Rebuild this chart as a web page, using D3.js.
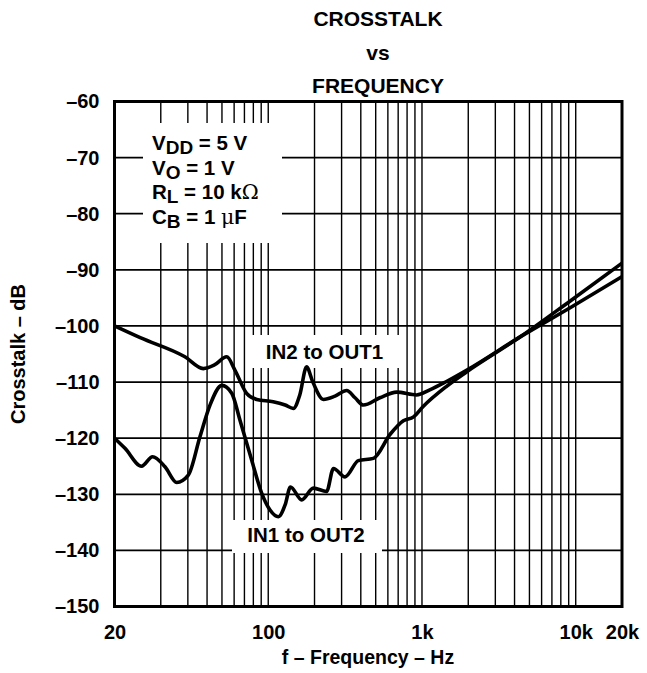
<!DOCTYPE html>
<html>
<head>
<meta charset="utf-8">
<script src="https://cdn.jsdelivr.net/npm/d3@7"></script>
<style>
  html, body { margin: 0; padding: 0; background: #fff; }
  svg { display: block; }
  text { font-family: "Liberation Sans", Arial, Helvetica, sans-serif; font-weight: bold; fill: #000; }
</style>
</head>
<body>
<svg id="chart" width="647" height="673"></svg>
<script>
// Crosstalk between channels vs frequency (Hz, log axis; dB)
const in2ToOut1Freq = [10, 14.7, 28.7, 37.8, 44.4, 53.7, 60.8, 72.3, 84.2, 107.6, 128.8, 145.7, 160.4, 177.6, 195, 228.3, 272, 323.8, 367, 415, 532, 684, 923, 1124, 1443, 1948, 4379, 9260, 20000];
const in2ToOut1Db   = [-100.0, -102.1, -105.5, -107.6, -107.0, -105.5, -107.9, -112.0, -113.1, -113.5, -114.1, -114.7, -112.3, -107.3, -110.0, -113.1, -112.5, -111.5, -112.8, -114.1, -112.8, -111.8, -112.3, -111.4, -109.9, -107.9, -101.9, -96.7, -91.2];

const in1ToOut2Freq = [10, 11.7, 15.0, 17.7, 21.3, 25.4, 30.2, 36.0, 41.8, 49.9, 57.9, 65.5, 78.0, 90.6, 102.7, 116.4, 128.7, 139.5, 165, 196.5, 239.7, 265.6, 316, 385.6, 482.7, 621, 757, 882, 1014, 1440, 1948, 4379, 9260, 20000];
const in1ToOut2Db   = [-120.0, -121.8, -125.0, -123.3, -125.1, -127.9, -126.6, -119.7, -114.1, -110.6, -112.0, -116.8, -123.9, -129.8, -132.8, -134.0, -131.9, -128.7, -131.0, -128.9, -129.5, -125.4, -126.9, -124.0, -123.6, -119.3, -116.9, -116.2, -114.4, -110.8, -108.2, -101.9, -95.5, -88.8];

const xTickValues = [10, 100, 1000, 10000, 20000];
const xTickLabels = ["20", "100", "1k", "10k", "20k"];
const yTickValues = [-60, -70, -80, -90, -100, -110, -120, -130, -140, -150];
const yTickLabels = ["–60", "–70", "–80", "–90", "–100", "–110", "–120", "–130", "–140", "–150"];

const titleLines = ["CROSSTALK", "vs", "FREQUENCY"];
const conditions = [
  { main: "V", sub: "DD", rest: " = 5 V", sym: "" },
  { main: "V", sub: "O", rest: " = 1 V", sym: "" },
  { main: "R", sub: "L", rest: " = 10 k", sym: "Ω" },
  { main: "C", sub: "B", rest: " = 1 ", sym: "μ", tail: "F" }
];

const svg = d3.select("#chart");
const plotLeft = 114.5, plotRight = 622, plotTop = 101.5, plotBottom = 606.5;

const x = d3.scaleLog().domain([10, 20000]).range([plotLeft, plotRight]);
const y = d3.scaleLinear().domain([-150, -60]).range([plotBottom, plotTop]);

// Title
svg.append("g").selectAll("text")
  .data(titleLines)
  .join("text")
  .attr("x", 378)
  .attr("y", (d, i) => 26 + i * 33.5)
  .attr("text-anchor", "middle")
  .style("font-size", "21px")
  .text(d => d);

// Grid
const grid = svg.append("g");
const vLines = x.ticks().filter(v => v > 10 && v < 20000);
grid.selectAll("line.v")
  .data(vLines)
  .join("line")
  .attr("class", "v")
  .attr("x1", d => x(d)).attr("x2", d => x(d))
  .attr("y1", plotTop).attr("y2", plotBottom)
  .attr("stroke", "#000").attr("stroke-width", 1.4);
grid.selectAll("line.h")
  .data(yTickValues.filter(v => v > -150 && v < -60))
  .join("line")
  .attr("class", "h")
  .attr("x1", plotLeft).attr("x2", plotRight)
  .attr("y1", d => y(d)).attr("y2", d => y(d))
  .attr("stroke", "#000").attr("stroke-width", 1.8);

// Label backgrounds that clear the grid
const boxes = [
  { x0: 143, x1: 282, y0: 123, y1: 243 },
  { x0: 250, x1: 402, y0: 335, y1: 368 },
  { x0: 232, x1: 382, y0: 520, y1: 553 }
];
svg.append("g").selectAll("rect")
  .data(boxes)
  .join("rect")
  .attr("x", d => d.x0).attr("y", d => d.y0)
  .attr("width", d => d.x1 - d.x0).attr("height", d => d.y1 - d.y0)
  .attr("fill", "#fff");

// Test conditions
const cond = svg.append("g").selectAll("text")
  .data(conditions)
  .join("text")
  .attr("x", 152)
  .attr("y", (d, i) => 150 + i * 24.5)
  .style("font-size", "20.5px");
cond.append("tspan").text(d => d.main);
cond.append("tspan").attr("dy", 4).style("font-size", "19px").text(d => d.sub);
cond.append("tspan").attr("dy", -4).text(d => d.rest);
cond.append("tspan").style("font-weight", "normal").style("font-family", "'DejaVu Serif', serif").text(d => d.sym);
cond.append("tspan").text(d => d.tail || "");

// Curve labels
svg.append("text").attr("x", 324.5).attr("y", 358.5).attr("text-anchor", "middle")
  .style("font-size", "20.5px").text("IN2 to OUT1");
svg.append("text").attr("x", 306).attr("y", 542).attr("text-anchor", "middle")
  .style("font-size", "20.5px").text("IN1 to OUT2");

// Curves
const line = d3.line()
  .x(d => x(d[0]))
  .y(d => y(d[1]))
  .curve(d3.curveMonotoneX);
const series = [
  d3.zip(in2ToOut1Freq, in2ToOut1Db),
  d3.zip(in1ToOut2Freq, in1ToOut2Db)
];
svg.append("g").selectAll("path")
  .data(series)
  .join("path")
  .attr("d", line)
  .attr("fill", "none")
  .attr("stroke", "#000")
  .attr("stroke-width", 3.6)
  .attr("stroke-linejoin", "round");

// Frame
svg.append("rect")
  .attr("x", plotLeft).attr("y", plotTop)
  .attr("width", plotRight - plotLeft).attr("height", plotBottom - plotTop)
  .attr("fill", "none").attr("stroke", "#000").attr("stroke-width", 3);

// Axes (labels only)
const xAxis = svg.append("g")
  .attr("transform", `translate(0,${plotBottom})`)
  .call(d3.axisBottom(x).tickValues(xTickValues).tickFormat((d, i) => xTickLabels[i]).tickSize(0).tickPadding(18));
xAxis.select(".domain").remove();

const yAxis = svg.append("g")
  .attr("transform", `translate(${plotLeft},0)`)
  .call(d3.axisLeft(y).tickValues(yTickValues).tickFormat((d, i) => yTickLabels[i]).tickSize(0).tickPadding(15));
yAxis.select(".domain").remove();

[xAxis, yAxis].forEach(g => {
  g.attr("font-family", null).attr("font-size", null);
  g.selectAll("text").style("font-size", "20px").attr("fill", "#000");
});

// Axis titles
svg.append("text")
  .attr("x", 368).attr("y", 664)
  .attr("text-anchor", "middle")
  .style("font-size", "19.5px")
  .text("f – Frequency – Hz");
svg.append("text")
  .attr("transform", `translate(25,${(plotTop + plotBottom) / 2}) rotate(-90)`)
  .attr("text-anchor", "middle")
  .style("font-size", "20px")
  .text("Crosstalk – dB");
</script>
</body>
</html>
